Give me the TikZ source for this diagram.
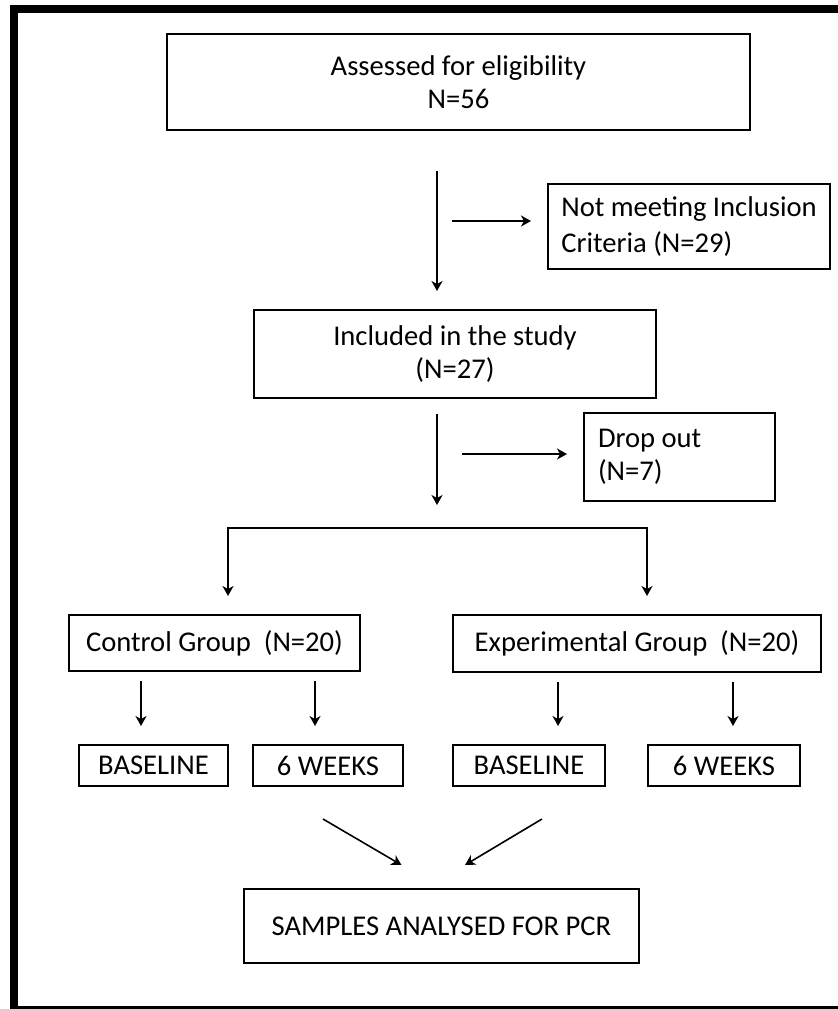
\documentclass[tikz,border=0pt]{standalone}
\usepackage{fontspec}
\setmainfont{Carlito}
\usetikzlibrary{arrows.meta,calc}
\tikzset{
  box/.style={draw, line width=1pt, inner sep=0pt, align=center, font=\fontsize{14.3}{16.5}\selectfont},
  arr/.style={-{Stealth[length=5pt,width=5.5pt,inset=1.5pt]}, line width=0.8pt}
}
\begin{document}
\begin{tikzpicture}[x=0.5pt,y=-0.5pt]
  \useasboundingbox (0,0) rectangle (838,1009);
  \draw[line width=4pt] (14,9) rectangle (845,1010);
  \node[box, minimum width=291.5pt, minimum height=48pt] (assess) at (458.5,82) {Assessed for eligibility\\N=56};
  \node[box, align=flush left, minimum width=141pt, minimum height=42.5pt, font=\fontsize{14.3}{18}\selectfont] (notmeet) at (689,226.5) {Not meeting Inclusion\\Criteria (N=29)};
  \node[box, minimum width=201pt, minimum height=44pt] (incl) at (455,354) {Included in the study\\(N=27)};
  \node[box, align=flush left, inner xsep=7pt, text width=81.5pt, minimum height=44pt] (drop) at (679.5,457) {Drop out\\(N=7)};
  \node[box, minimum width=145.5pt, minimum height=28pt] (ctrl) at (214.5,643) {Control Group~~(N=20)};
  \node[box, minimum width=184pt, minimum height=28.5pt] (expt) at (637,643.5) {Experimental Group~~(N=20)};
  \node[box, minimum width=74.5pt, minimum height=20.5pt] (base1) at (153.5,765.5) {BASELINE};
  \node[box, minimum width=75pt, minimum height=20.5pt] (wk1) at (328,765.5) {6 WEEKS};
  \node[box, minimum width=76pt, minimum height=20.5pt] (base2) at (529,765.5) {BASELINE};
  \node[box, minimum width=76pt, minimum height=20.5pt] (wk2) at (724,765.5) {6 WEEKS};
  \node[box, minimum width=197.5pt, minimum height=37pt] (pcr) at (441.5,926) {SAMPLES ANALYSED FOR PCR};
  \coordinate (split) at (437,528);

  \draw[arr] ($(assess.south)+(-21.5,40)$) -- ($(incl.north)+(-18,-18)$);
  \draw[arr] ($(notmeet.west)+(-95,-5.5)$) -- ($(notmeet.west)+(-16,-5.5)$);
  \draw[arr] ($(incl.south)+(-18,15)$) -- ($(split)+(0,-23)$);
  \draw[arr] ($(drop.west)+(-121,-3)$) -- ($(drop.west)+(-16,-3)$);
  \draw[arr] (split) -| ($(ctrl.north)+(13.5,-18)$);
  \draw[arr] (split) -| ($(expt.north)+(10,-18)$);
  \foreach \grp/\leaf/\dx in {ctrl/base1/-12.5, ctrl/wk1/-13, expt/base2/29, expt/wk2/9}
    \draw[arr] ($(\leaf.north |- \grp.south)+(\dx,9)$) -- ($(\leaf.north)+(\dx,-18)$);
  \draw[arr] ($(wk1.south)+(-5,32)$) -- ($(pcr.north)+(-40,-23)$);
  \draw[arr] ($(base2.south)+(13,32)$) -- ($(pcr.north)+(23.5,-23)$);
\end{tikzpicture}
\end{document}
